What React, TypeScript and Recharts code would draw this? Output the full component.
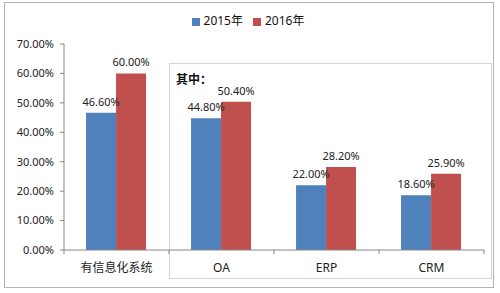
import React from "react";
import { BarChart, Bar, XAxis, YAxis, Legend, LabelList } from "recharts";

const categories = ["有信息化系统", "OA", "ERP", "CRM"];
const values2015 = [46.6, 44.8, 22.0, 18.6];
const values2016 = [60.0, 50.4, 28.2, 25.9];
const yTicks = [0, 10, 20, 30, 40, 50, 60, 70];

const data = categories.map((name, i) => ({
  name,
  y2015: values2015[i],
  y2016: values2016[i],
}));

const FONT = '"Noto Sans", "Noto Sans CJK SC", sans-serif';
const AXIS = "#868686";

const pct = (v: any) => `${Number(v).toFixed(2)}%`;

// category tick: label plus boundary tick marks between categories
const CategoryTick = (props: any) => {
  const { x, y, payload, index } = props;
  const half = payload?.offset ?? 52;
  const last = index === categories.length - 1;
  return (
    <g>
      <line x1={x - half} y1={y - 8} x2={x - half} y2={y - 4} stroke={AXIS} />
      {last && <line x1={x + half} y1={y - 8} x2={x + half} y2={y - 4} stroke={AXIS} />}
      <text x={x} y={y + 14} textAnchor="middle" fontSize={12} fill="#222" fontFamily={FONT}>
        {payload.value}
      </text>
    </g>
  );
};

export default function App() {
  return (
    <div style={{ position: "absolute", left: 0, top: 0, width: 500, height: 293, background: "#fff" }}>
      {/* outer frame */}
      <div
        style={{
          position: "absolute",
          left: 4,
          top: 2,
          width: 490,
          height: 286,
          border: "1px solid #b4b4b4",
          boxSizing: "border-box",
        }}
      />
      {/* sub-category box */}
      <div
        style={{
          position: "absolute",
          left: 169,
          top: 63,
          width: 323,
          height: 216,
          border: "1px solid #d4d4d4",
          boxSizing: "border-box",
        }}
      />
      <div
        style={{
          position: "absolute",
          left: 176,
          top: 70,
          fontSize: 12,
          fontWeight: "bold",
          fontFamily: FONT,
          color: "#111",
        }}
      >
        其中：
      </div>
      <div style={{ position: "absolute", left: 0, top: 0 }}>
        <BarChart
          width={500}
          height={293}
          data={data}
          margin={{ top: 44, right: 16, bottom: 0, left: 4 }}
          barGap={0}
          barCategoryGap="21%"
        >
          <Legend
            layout="horizontal"
            verticalAlign="middle"
            align="center"
            iconType="square"
            iconSize={8}
            wrapperStyle={{ top: 11, left: 183, width: 140, fontFamily: FONT, fontSize: 12 }}
            formatter={(v: any) => <span style={{ color: "#111" }}>{v}</span>}
          />
          <YAxis
            width={60}
            domain={[0, 70]}
            ticks={yTicks}
            tickFormatter={pct}
            tick={{ fontSize: 11, fill: "#222", fontFamily: FONT }}
            tickSize={4}
            tickMargin={6}
            axisLine={{ stroke: AXIS }}
            tickLine={{ stroke: AXIS }}
            interval={0}
          />
          <XAxis
            dataKey="name"
            tick={<CategoryTick />}
            tickLine={false}
            axisLine={{ stroke: AXIS }}
            height={43}
            tickSize={4}
            tickMargin={4}
            interval={0}
          />
          <Bar dataKey="y2015" name="2015年" fill="#4F81BD" isAnimationActive={false}>
            <LabelList
              dataKey="y2015"
              position="top"
              offset={7}
              formatter={pct}
              style={{ fontSize: 11, fill: "#222", fontFamily: FONT }}
            />
          </Bar>
          <Bar dataKey="y2016" name="2016年" fill="#C0504D" isAnimationActive={false}>
            <LabelList
              dataKey="y2016"
              position="top"
              offset={7}
              formatter={pct}
              style={{ fontSize: 11, fill: "#222", fontFamily: FONT }}
            />
          </Bar>
        </BarChart>
      </div>
    </div>
  );
}
